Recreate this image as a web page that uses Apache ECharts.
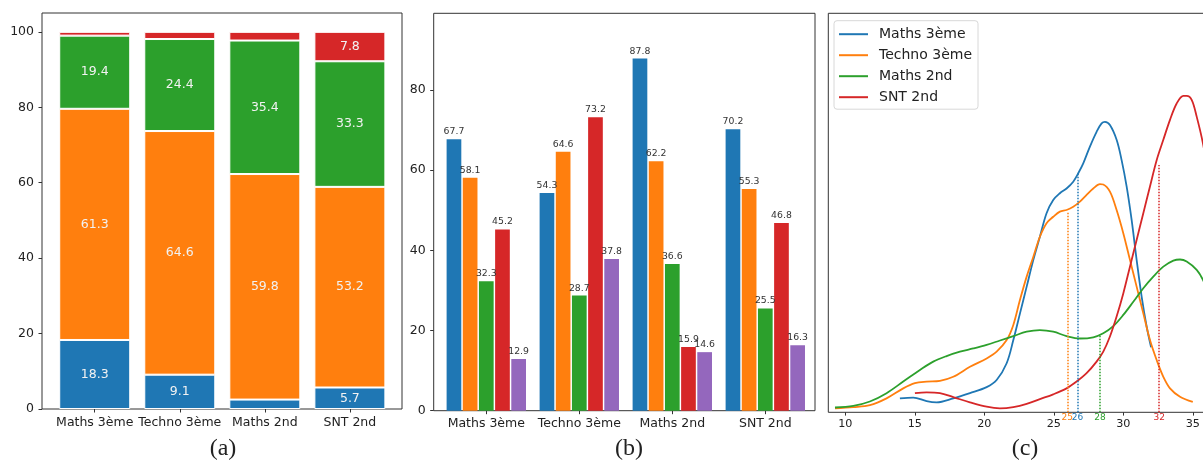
<!DOCTYPE html>
<html><head><meta charset="utf-8">
<script src="https://cdn.jsdelivr.net/npm/echarts@6/dist/echarts.min.js"></script>
<style>html,body{margin:0;padding:0;background:#fff}#c{width:1203px;height:460px}</style>
</head><body><div id="c"></div><script>
// ---------- data ----------
const categories = ['Maths 3ème', 'Techno 3ème', 'Maths 2nd', 'SNT 2nd'];
// (a) stacked percentages
const stackBlue   = [18.3, 9.1, 2.5, 5.7];
const stackOrange = [61.3, 64.6, 59.8, 53.2];
const stackGreen  = [19.4, 24.4, 35.4, 33.3];
const stackRed    = [1.0, 1.9, 2.3, 7.8];
const yTicksA = [0, 20, 40, 60, 80, 100];
// (b) grouped bars
const barBlue   = [67.7, 54.3, 87.8, 70.2];
const barOrange = [58.1, 64.6, 62.2, 55.3];
const barGreen  = [32.3, 28.7, 36.6, 25.5];
const barRed    = [45.2, 73.2, 15.9, 46.8];
const barPurple = [12.9, 37.8, 14.6, 16.3];
const yTicksB = [0, 20, 40, 60, 80];
// (c) density curves [score, density (relative units)]
const kdeNames = ['Maths 3ème', 'Techno 3ème', 'Maths 2nd', 'SNT 2nd'];
const kdeMaths3 = [[13.93,3.5],[14.89,3.7],[15.85,2.8],[16.57,2.5],[17.77,3.5],[18.97,4.8],[20.17,6.3],[20.89,8.1],[21.61,12.3],[22.09,18.1],[22.57,24.8],[23.05,31.5],[23.53,38.2],[24.0,44.0],[24.48,49.9],[24.96,53.2],[25.44,54.9],[25.92,56.1],[26.4,57.8],[26.76,59.9],[27.12,62.4],[27.6,66.6],[28.08,70.3],[28.44,72.4],[28.68,72.8],[29.04,72.0],[29.52,68.3],[29.88,63.2],[30.24,56.6],[30.6,48.2],[30.96,38.2],[31.32,29.0],[31.68,21.5],[32.0,16.3]];
const kdeTechno3 = [[9.26,1.0],[10.58,1.3],[11.77,1.8],[12.97,3.5],[14.17,6.0],[15.01,7.3],[15.85,7.7],[16.81,7.9],[17.77,8.9],[18.97,11.4],[20.17,13.5],[20.89,15.2],[21.61,18.1],[22.09,21.9],[22.57,28.2],[23.05,34.0],[23.53,39.0],[24.0,44.0],[24.48,47.4],[24.96,49.0],[25.44,50.3],[25.92,50.7],[26.4,51.5],[26.88,52.8],[27.36,54.5],[27.84,56.1],[28.32,57.2],[28.56,57.1],[29.04,55.3],[29.52,50.7],[30.0,44.9],[30.48,38.2],[30.96,31.5],[31.44,24.8],[31.92,18.1],[32.4,13.1],[32.88,8.9],[33.36,6.0],[34.08,3.9],[35.0,2.6]];
const kdeMaths2 = [[9.26,1.2],[10.58,1.6],[11.77,2.7],[12.97,4.8],[14.17,7.7],[15.37,10.6],[16.33,12.7],[17.29,14.1],[18.25,15.2],[19.21,16.0],[20.17,16.9],[21.13,18.0],[22.09,19.1],[23.05,20.2],[24.0,20.6],[24.96,20.2],[25.92,19.1],[26.88,18.5],[27.84,18.8],[28.56,19.8],[29.28,21.6],[30.0,24.4],[30.72,27.7],[31.44,31.1],[32.16,34.0],[32.88,36.5],[33.6,38.0],[34.08,38.3],[34.56,37.8],[35.28,35.7],[35.73,33.2],[36.3,28.5]];
const kdeSnt2 = [[15.01,4.8],[15.85,5.0],[16.81,4.8],[17.77,3.8],[18.97,2.5],[20.17,1.4],[21.13,1.0],[22.09,1.3],[23.05,2.1],[24.0,3.3],[24.96,4.5],[25.92,6.0],[26.64,7.7],[27.36,9.8],[28.08,12.7],[28.56,15.2],[29.04,19.0],[29.52,24.0],[30.0,29.8],[30.48,36.5],[30.96,43.2],[31.44,49.9],[31.92,56.6],[32.4,63.2],[32.88,68.3],[33.36,73.3],[33.84,77.4],[34.32,79.3],[34.56,79.3],[34.92,78.3],[35.28,74.1],[35.73,67.4],[36.3,56.0]];
const medianX     = [26.71, 25.97, 28.32, 32.58];
const medianTop   = [59.9, 50.3, 19.4, 62.0];
const medianLabel = ['26', '25', '28', '32'];
const xTicksC = [10, 15, 20, 25, 30, 35];
const panelLabels = ['(a)', '(b)', '(c)'];

// ---------- styles ----------
const C = ['#1f77b4', '#ff7f0e', '#2ca02c', '#d62728', '#9467bd'];
const FONT = 'DejaVu Sans';
const INK = '#222';
const FRAME = '#333';

const chart = echarts.init(document.getElementById('c'), null, {renderer: 'canvas'});

function stackSeries(name, data, color) {
  return {
    name, type: 'bar', stack: 'a', xAxisIndex: 1, yAxisIndex: 1, data,
    barWidth: 71,
    itemStyle: {color, borderColor: '#fff', borderWidth: 1},
    label: {show: true, position: 'inside', color: '#f2f2f2', fontFamily: FONT, fontSize: 12.5,
      formatter: p => p.value > 5 ? p.value.toFixed(1) : ''},
    silent: true
  };
}
function groupSeries(name, data, color) {
  return {
    name, type: 'bar', xAxisIndex: 3, yAxisIndex: 3, data,
    barWidth: 14.7, barGap: '10%',
    itemStyle: {color},
    label: {show: true, position: 'top', distance: 3, color: '#333', fontFamily: FONT, fontSize: 9.3,
      formatter: p => p.value.toFixed(1)},
    silent: true
  };
}
const kdeData = [kdeMaths3, kdeTechno3, kdeMaths2, kdeSnt2];
const kdeSeries = kdeNames.map((n, i) => ({
  name: n, type: 'line', xAxisIndex: 4, yAxisIndex: 4, data: kdeData[i],
  showSymbol: false, smooth: 0.35, lineStyle: {width: 1.8, color: C[i]}, itemStyle: {color: C[i]},
  silent: true,
  markLine: {
    silent: true, symbol: ['none', 'none'], animation: false,
    lineStyle: {type: 'dotted', width: 1.5, color: C[i]},
    label: {show: true, position: 'start', distance: 1, color: C[i], fontFamily: FONT, fontSize: 9,
      formatter: medianLabel[i]},
    data: [[{coord: [medianX[i], 0]}, {coord: [medianX[i], medianTop[i]]}]]
  }
}));

const valueY = (gridIndex, max, ticks) => ({
  type: 'value', gridIndex, min: 0, max,
  axisLine: {show: false}, splitLine: {show: false},
  axisTick: {show: true, length: 3.5, lineStyle: {color: FRAME}, customValues: ticks},
  axisLabel: {color: INK, fontFamily: FONT, fontSize: 12.5, margin: 8, customValues: ticks}
});
const catX = (gridIndex) => ({
  type: 'category', gridIndex, data: categories,
  axisLine: {show: false}, splitLine: {show: false},
  axisTick: {show: true, alignWithLabel: true, length: 3.5, lineStyle: {color: FRAME}},
  axisLabel: {color: INK, fontFamily: FONT, fontSize: 12.5, margin: 7, interval: 0}
});

const option = {
  animation: false,
  backgroundColor: '#fff',
  grid: [
    {left: 42, top: 13, width: 360, height: 396, show: true, borderColor: FRAME, borderWidth: 1, outerBoundsMode: 'none', containLabel: false},
    {left: 52.2, top: 13, width: 340.2, height: 396, outerBoundsMode: 'none', containLabel: false},
    {left: 433.7, top: 13.3, width: 381.3, height: 397.4, show: true, borderColor: FRAME, borderWidth: 1, outerBoundsMode: 'none', containLabel: false},
    {left: 439.8, top: 13.3, width: 372, height: 397.4, outerBoundsMode: 'none', containLabel: false},
    {left: 828.3, top: 13.3, width: 434, height: 399, show: true, borderColor: FRAME, borderWidth: 1, outerBoundsMode: 'none', containLabel: false}
  ],
  xAxis: [
    {type: 'value', gridIndex: 0, min: 0, max: 1, show: false},
    catX(1),
    {type: 'value', gridIndex: 2, min: 0, max: 1, show: false},
    catX(3),
    {type: 'value', gridIndex: 4, min: 8.78, max: 40,
      axisLine: {show: false}, splitLine: {show: false},
      axisTick: {show: true, length: 3.3, lineStyle: {color: FRAME}, customValues: xTicksC},
      axisLabel: {color: INK, fontFamily: FONT, fontSize: 11.2, margin: 6, customValues: xTicksC}}
  ],
  yAxis: [
    valueY(0, 105, yTicksA),
    {type: 'value', gridIndex: 1, min: 0, max: 105, show: false},
    valueY(2, 99.1, yTicksB),
    {type: 'value', gridIndex: 3, min: 0, max: 99.1, show: false},
    {type: 'value', gridIndex: 4, min: 0, max: 100, show: false}
  ],
  legend: {
    data: kdeNames, orient: 'vertical', left: 834, top: 20.7,
    padding: [6.5, 6, 5, 5], itemGap: 7, itemWidth: 29, itemHeight: 2, icon: 'rect',
    borderColor: '#d8d8d8', borderWidth: 1, borderRadius: 3, backgroundColor: 'rgba(255,255,255,0.85)',
    textStyle: {color: INK, fontFamily: FONT, fontSize: 14, lineHeight: 14, padding: [0, 0, 0, 6]},
    selectedMode: false
  },
  graphic: [
    {type: 'text', x: 223, y: 449, silent: true, style: {text: panelLabels[0], font: '24px "Liberation Serif"', fill: INK, align: 'center', verticalAlign: 'middle', textAlign: 'center', textVerticalAlign: 'middle'}},
    {type: 'text', x: 629, y: 449, silent: true, style: {text: panelLabels[1], font: '24px "Liberation Serif"', fill: INK, align: 'center', verticalAlign: 'middle', textAlign: 'center', textVerticalAlign: 'middle'}},
    {type: 'text', x: 1025, y: 449, silent: true, style: {text: panelLabels[2], font: '24px "Liberation Serif"', fill: INK, align: 'center', verticalAlign: 'middle', textAlign: 'center', textVerticalAlign: 'middle'}}
  ],
  series: [
    stackSeries('a-blue', stackBlue, C[0]),
    stackSeries('a-orange', stackOrange, C[1]),
    stackSeries('a-green', stackGreen, C[2]),
    stackSeries('a-red', stackRed, C[3]),
    groupSeries('b-blue', barBlue, C[0]),
    groupSeries('b-orange', barOrange, C[1]),
    groupSeries('b-green', barGreen, C[2]),
    groupSeries('b-red', barRed, C[3]),
    groupSeries('b-purple', barPurple, C[4])
  ].concat(kdeSeries)
};
chart.setOption(option);
</script></body></html>
